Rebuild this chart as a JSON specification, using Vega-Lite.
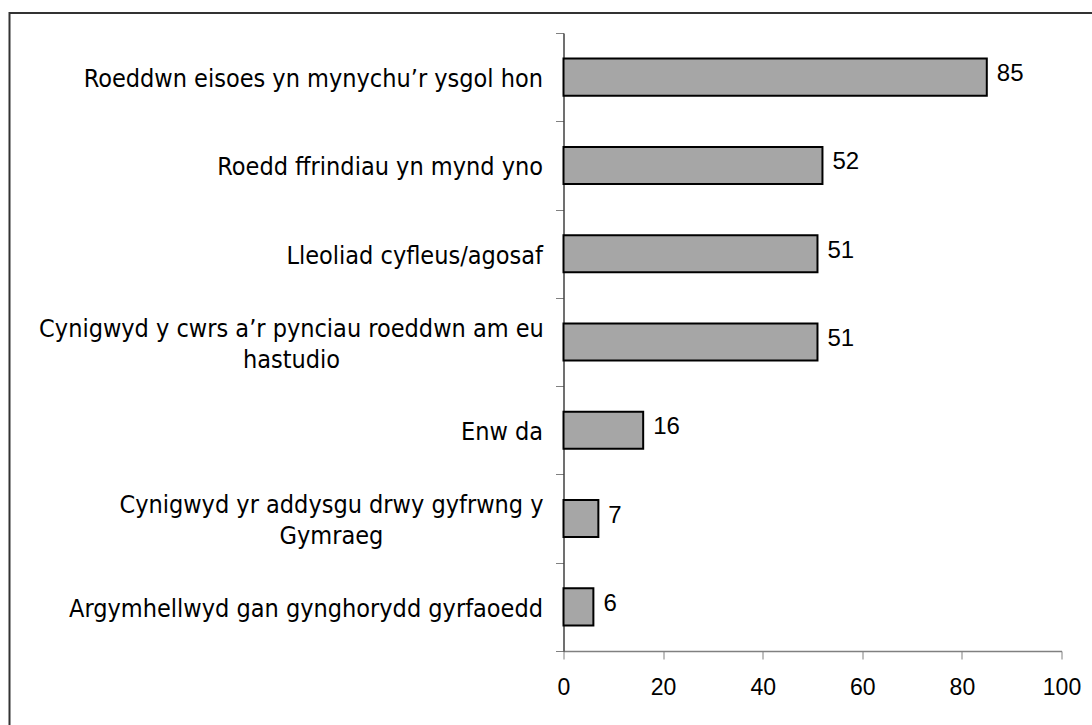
{
  "$schema": "https://vega.github.io/schema/vega-lite/v6.json",
  "width": 1084,
  "height": 715,
  "autosize": "none",
  "padding": {"left": 9.5, "top": 13, "right": 0, "bottom": 0},
  "background": "white",
  "config": {"view": {"stroke": "#333333", "strokeWidth": 2}},
  "data": {
    "values": [
      {"reason": "Roeddwn eisoes yn mynychu’r ysgol hon", "value": 85},
      {"reason": "Roedd ffrindiau yn mynd yno", "value": 52},
      {"reason": "Lleoliad cyfleus/agosaf", "value": 51},
      {"reason": "Cynigwyd y cwrs a’r pynciau roeddwn am eu\nhastudio", "value": 51},
      {"reason": "Enw da", "value": 16},
      {"reason": "Cynigwyd yr addysgu drwy gyfrwng y\nGymraeg", "value": 7},
      {"reason": "Argymhellwyd gan gynghorydd gyrfaoedd", "value": 6}
    ]
  },
  "layer": [
    {
      "mark": {"type": "bar", "fill": "#A6A6A6", "stroke": "black", "strokeWidth": 2, "height": {"band": 0.42}},
      "encoding": {
        "y": {
          "field": "reason", "type": "nominal", "sort": null,
          "scale": {"range": [20, 638], "paddingInner": 0, "paddingOuter": 0},
          "axis": {
            "orient": "left", "offset": -554, "title": null, "labels": false,
            "tickBand": "extent", "tickSize": 8, "tickColor": "#808080",
            "domainColor": "#404040", "domainWidth": 1.5
          }
        },
        "x": {
          "field": "value", "type": "quantitative",
          "scale": {"domain": [0, 100], "range": [554, 1052], "nice": false},
          "axis": {
            "orient": "bottom", "offset": -77, "title": null, "grid": false,
            "values": [0, 20, 40, 60, 80, 100],
            "tickSize": 8, "tickColor": "#808080", "domainColor": "#808080", "domainWidth": 1.5,
            "labelFont": "Liberation Sans", "labelFontSize": 23, "labelColor": "black",
            "labelPadding": 17, "labelFlush": false, "labelOverlap": false
          }
        }
      }
    },
    {
      "mark": {"type": "text", "align": "left", "baseline": "middle", "dx": 10, "dy": -3, "font": "Liberation Sans", "fontSize": 24, "color": "black"},
      "encoding": {
        "y": {"field": "reason", "type": "nominal", "sort": null},
        "x": {"field": "value", "type": "quantitative"},
        "text": {"field": "value", "type": "quantitative"}
      }
    },
    {
      "transform": [{"filter": "indexof(datum.reason, '\\n') < 0"}],
      "mark": {"type": "text", "align": "right", "baseline": "middle", "dx": -20.5, "dy": 2, "font": "DejaVu Sans Condensed", "fontSize": 25, "color": "black"},
      "encoding": {
        "y": {"field": "reason", "type": "nominal", "sort": null},
        "x": {"datum": 0, "type": "quantitative"},
        "text": {"field": "reason", "type": "nominal"}
      }
    },
    {
      "transform": [{"filter": "indexof(datum.reason, 'hastudio') >= 0"}],
      "mark": {"type": "text", "align": "center", "baseline": "middle", "lineBreak": "\n", "lineHeight": 31, "dx": -272, "dy": -13.5, "font": "DejaVu Sans Condensed", "fontSize": 25, "color": "black"},
      "encoding": {
        "y": {"field": "reason", "type": "nominal", "sort": null},
        "x": {"datum": 0, "type": "quantitative"},
        "text": {"field": "reason", "type": "nominal"}
      }
    },
    {
      "transform": [{"filter": "indexof(datum.reason, 'Gymraeg') >= 0"}],
      "mark": {"type": "text", "align": "center", "baseline": "middle", "lineBreak": "\n", "lineHeight": 31, "dx": -232, "dy": -13.5, "font": "DejaVu Sans Condensed", "fontSize": 25, "color": "black"},
      "encoding": {
        "y": {"field": "reason", "type": "nominal", "sort": null},
        "x": {"datum": 0, "type": "quantitative"},
        "text": {"field": "reason", "type": "nominal"}
      }
    }
  ]
}
